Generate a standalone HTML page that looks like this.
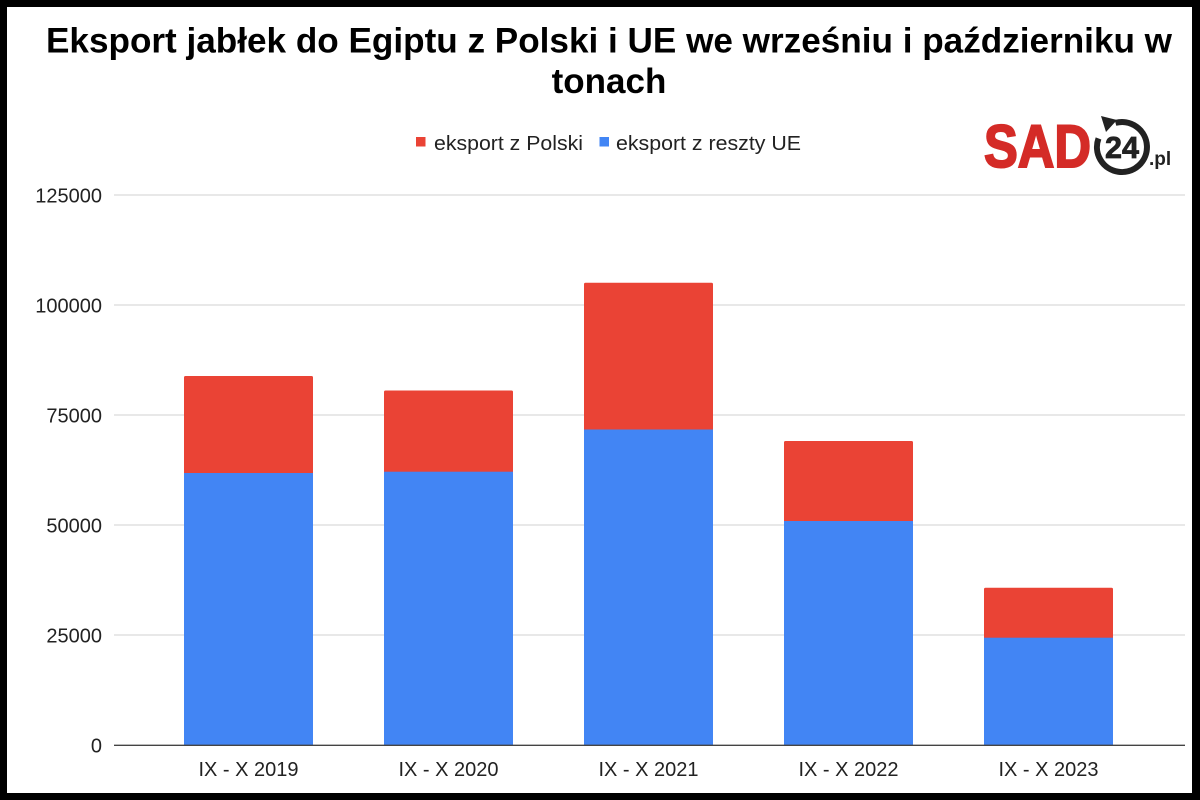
<!DOCTYPE html>
<html>
<head>
<meta charset="utf-8">
<style>
html,body{margin:0;padding:0;background:#fff;}
svg{display:block;}
</style>
</head>
<body>
<svg width="1200" height="800" viewBox="0 0 1200 800" xmlns="http://www.w3.org/2000/svg" font-family="Liberation Sans, Arial, sans-serif">
  <rect x="0" y="0" width="1200" height="800" fill="#000"/>
  <rect x="7" y="7" width="1185" height="786" fill="#fff"/>

  <!-- Title -->
  <text x="46" y="52.5" font-size="35" font-weight="bold" fill="#000" textLength="1126" lengthAdjust="spacingAndGlyphs">Eksport jabłek do Egiptu z Polski i UE we wrześniu i październiku w</text>
  <text x="609" y="93" font-size="35" font-weight="bold" fill="#000" text-anchor="middle">tonach</text>

  <!-- Legend -->
  <rect x="416" y="137" width="9.5" height="9.5" fill="#ea4335"/>
  <text x="434" y="150" font-size="20" fill="#222" textLength="149" lengthAdjust="spacingAndGlyphs">eksport z Polski</text>
  <rect x="599.5" y="137" width="9.5" height="9.5" fill="#4285f4"/>
  <text x="616" y="150" font-size="20" fill="#222" textLength="185" lengthAdjust="spacingAndGlyphs">eksport z reszty UE</text>

  <!-- Logo -->
  <text x="984" y="167" font-size="60" font-weight="bold" fill="#d42b27" stroke="#d42b27" stroke-width="2" textLength="107" lengthAdjust="spacingAndGlyphs">SAD</text>
  <path d="M1115.5 122.9 A25 25 0 1 1 1098.5 138.4" fill="none" stroke="#222" stroke-width="6"/>
  <polygon points="1101,116 1117,120 1106,132" fill="#222"/>
  <text x="1122" y="158" font-size="31" font-weight="bold" fill="#222" stroke="#222" stroke-width="0.8" text-anchor="middle" textLength="34" lengthAdjust="spacingAndGlyphs">24</text>
  <text x="1149" y="165" font-size="19" font-weight="bold" fill="#222">.pl</text>

  <!-- Gridlines -->
  <g stroke="#d9d9d9" stroke-width="1.3">
    <line x1="114" y1="195" x2="1185" y2="195"/>
    <line x1="114" y1="305" x2="1185" y2="305"/>
    <line x1="114" y1="415" x2="1185" y2="415"/>
    <line x1="114" y1="525" x2="1185" y2="525"/>
    <line x1="114" y1="635" x2="1185" y2="635"/>
  </g>

  <!-- Y labels -->
  <g font-size="20" fill="#222" text-anchor="end">
    <text x="102" y="202.5">125000</text>
    <text x="102" y="312.5">100000</text>
    <text x="102" y="422.5">75000</text>
    <text x="102" y="532.5">50000</text>
    <text x="102" y="642.5">25000</text>
    <text x="102" y="752.5">0</text>
  </g>

  <!-- Bars -->
  <g>
    <rect x="184" y="376" width="129" height="99" fill="#ea4335" rx="1.5"/>
    <rect x="184" y="473" width="129" height="272" fill="#4285f4"/>

    <rect x="384" y="390.5" width="129" height="83" fill="#ea4335" rx="1.5"/>
    <rect x="384" y="471.7" width="129" height="273.3" fill="#4285f4"/>

    <rect x="584" y="282.7" width="129" height="149" fill="#ea4335" rx="1.5"/>
    <rect x="584" y="429.5" width="129" height="315.5" fill="#4285f4"/>

    <rect x="784" y="441" width="129" height="82" fill="#ea4335" rx="1.5"/>
    <rect x="784" y="521" width="129" height="224" fill="#4285f4"/>

    <rect x="984" y="587.7" width="129" height="52" fill="#ea4335" rx="1.5"/>
    <rect x="984" y="637.7" width="129" height="107.3" fill="#4285f4"/>
  </g>

  <!-- Axis line -->
  <line x1="114" y1="745.3" x2="1185" y2="745.3" stroke="#444" stroke-width="1.3"/>

  <!-- X labels -->
  <g font-size="20" fill="#222" text-anchor="middle">
    <text x="248.5" y="776">IX - X 2019</text>
    <text x="448.5" y="776">IX - X 2020</text>
    <text x="648.5" y="776">IX - X 2021</text>
    <text x="848.5" y="776">IX - X 2022</text>
    <text x="1048.5" y="776">IX - X 2023</text>
  </g>
</svg>
</body>
</html>
